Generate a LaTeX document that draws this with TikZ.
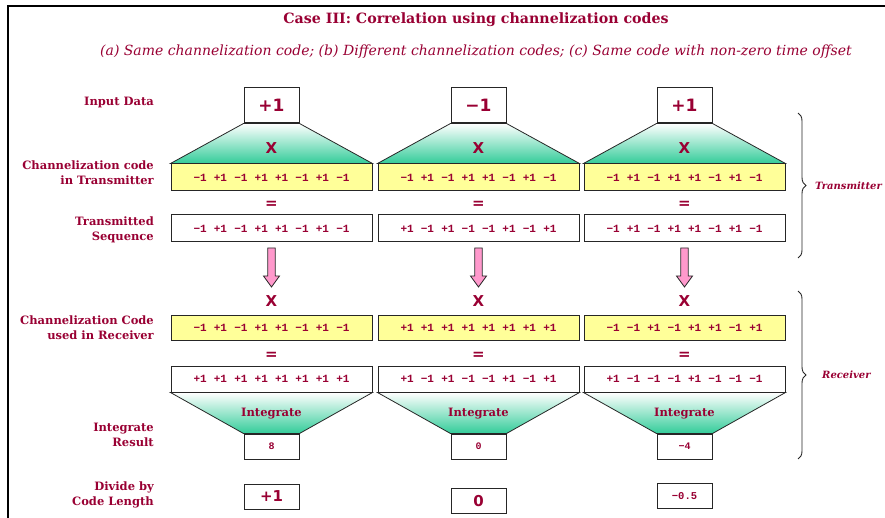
\documentclass[tikz,border=0pt]{standalone}
\usepackage{fontspec}
\setmainfont{DejaVu Serif}
\newfontfamily\monof{Liberation Mono}
\newfontfamily\sansb{DejaVu Sans}
\usetikzlibrary{decorations.pathreplacing}
\definecolor{mar}{HTML}{990033}
\definecolor{yel}{HTML}{FFFF99}
\definecolor{grn}{HTML}{33CC99}
\definecolor{pnk}{HTML}{FF99CC}
\newcommand\cell[1]{\makebox[20.4pt]{#1}}
\newcommand\sq[8]{\cell{#1}\cell{#2}\cell{#3}\cell{#4}\cell{#5}\cell{#6}\cell{#7}\cell{#8}}
% #1 id, #2 x, #3 input, #4 tx code, #5 seq, #6 rx code, #7 result, #8 integrate
\newcommand\drawcol[8]{%
  \node[inbox] (in#1) at (#2,105.5) {#3};
  \node[ycode] (tx#1) at (#2,177.5) {#4};
  \path[funnel] (in#1.south west) -- (in#1.south east) -- (tx#1.north east) -- (tx#1.north west) -- cycle;
  \node[op] (x#1) at (#2,148) {X};
  \node[op] (eqa#1) at (#2,205) {=};
  \node[wcode] (seq#1) at (#2,228.5) {#5};
  \path[pipe] (#2-3.7,248) -- (#2+3.7,248) -- (#2+3.7,276) -- (#2+8,276) -- (#2,287) -- (#2-8,276) -- (#2-3.7,276) -- cycle;
  \node[op] (xr#1) at (#2,301) {X};
  \node[ycode, minimum height=25pt] (rx#1) at (#2,327.5) {#6};
  \node[op] (eqb#1) at (#2,356) {=};
  \node[wcode, minimum height=26pt] (res#1) at (#2,379) {#7};
  \node[resbox] (int#1) at (#2,446.5) {#8};
  \path[funnel] (res#1.south west) -- (res#1.south east) -- (int#1.north east) -- (int#1.north west) -- cycle;
  \node[intlbl] (il#1) at (#2,414) {Integrate};
}
\begin{document}
\begin{tikzpicture}[x=1pt,y=-1pt,
  codebox/.style={draw=black!85, line width=1pt, minimum width=201pt, minimum height=27pt, inner sep=0pt,
    font=\monof\bfseries\fontsize{11}{11}\selectfont, text=mar},
  ycode/.style={codebox, fill=yel},
  wcode/.style={codebox, fill=white},
  inbox/.style={draw=black!85, line width=1pt, fill=white, minimum width=55pt, minimum height=35pt, inner sep=0pt,
    text=mar, font=\sansb\bfseries\fontsize{17}{17}\selectfont},
  resbox/.style={draw=black!85, line width=1pt, fill=white, minimum width=55pt, minimum height=25pt, inner sep=0pt,
    text=mar, font=\monof\bfseries\fontsize{10}{10}\selectfont},
  divbox/.style={draw=black!85, line width=1pt, fill=white, minimum width=55pt, minimum height=25pt, inner sep=0pt,
    text=mar, font=\sansb\bfseries\fontsize{15}{15}\selectfont},
  lbl/.style={anchor=east, align=right, text=mar, inner sep=0pt, font=\bfseries\fontsize{11.5}{15}\selectfont},
  intlbl/.style={text=mar, inner sep=0pt, font=\bfseries\fontsize{11.5}{12}\selectfont},
  op/.style={text=mar, inner sep=0pt, font=\sansb\bfseries\fontsize{15}{15}\selectfont},
  funnel/.style={draw=black!85, line width=0.8pt, top color=white, bottom color=grn},
  pipe/.style={draw=black!85, line width=0.8pt, fill=pnk},
  brc/.style={draw=black!85, line width=0.9pt, decorate, decoration={brace, amplitude=8pt}},
  side/.style={anchor=west, text=mar, inner sep=0pt, font=\bfseries\itshape\fontsize{10}{10}\selectfont}
]
\useasboundingbox (0,0) rectangle (885,518);
\draw[line width=1.4pt] (8,518) -- (8,6) -- (885,6);

\node[text=mar, font=\bfseries\fontsize{14.2}{16}\selectfont] (title) at (476,20) {Case III: Correlation using channelization codes};
\node[text=mar, font=\itshape\fontsize{14}{16}\selectfont] (sub) at (476,52) {(a) Same channelization code; (b) Different channelization codes; (c) Same code with non-zero time offset};

\node[lbl] (l1) at (154,103) {Input Data};
\node[lbl] (l2) at (154,172.5) {Channelization code\\in Transmitter};
\node[lbl] (l3) at (154,229.5) {Transmitted\\Sequence};
\node[lbl] (l4) at (154,328) {Channelization Code\\used in Receiver};
\node[lbl] (l5) at (154,434.5) {Integrate\\Result};
\node[lbl] (l6) at (154,495) {Divide by\\Code Length};

\drawcol{1}{271.5}{+1}{\sq{−1}{+1}{−1}{+1}{+1}{−1}{+1}{−1}}{\sq{−1}{+1}{−1}{+1}{+1}{−1}{+1}{−1}}{\sq{−1}{+1}{−1}{+1}{+1}{−1}{+1}{−1}}{\sq{+1}{+1}{+1}{+1}{+1}{+1}{+1}{+1}}{8}
\drawcol{2}{478.5}{−1}{\sq{−1}{+1}{−1}{+1}{+1}{−1}{+1}{−1}}{\sq{+1}{−1}{+1}{−1}{−1}{+1}{−1}{+1}}{\sq{+1}{+1}{+1}{+1}{+1}{+1}{+1}{+1}}{\sq{+1}{−1}{+1}{−1}{−1}{+1}{−1}{+1}}{0}
\drawcol{3}{684.5}{+1}{\sq{−1}{+1}{−1}{+1}{+1}{−1}{+1}{−1}}{\sq{−1}{+1}{−1}{+1}{+1}{−1}{+1}{−1}}{\sq{−1}{−1}{+1}{−1}{+1}{+1}{−1}{+1}}{\sq{+1}{−1}{−1}{−1}{+1}{−1}{−1}{−1}}{−4}

\node[divbox] (d1) at (271.5,496.5) {+1};
\node[divbox] (d2) at (478.5,501) {0};
\node[resbox, font=\monof\bfseries\fontsize{10.5}{10.5}\selectfont] (d3) at (684.5,496) {−0.5};

\draw[brc] (798,113) -- (798,258);
\node[side] (tr) at (815,186) {Transmitter};
\draw[brc] (798,291) -- (798,459);
\node[side] (rc) at (822,375) {Receiver};
\end{tikzpicture}
\end{document}
